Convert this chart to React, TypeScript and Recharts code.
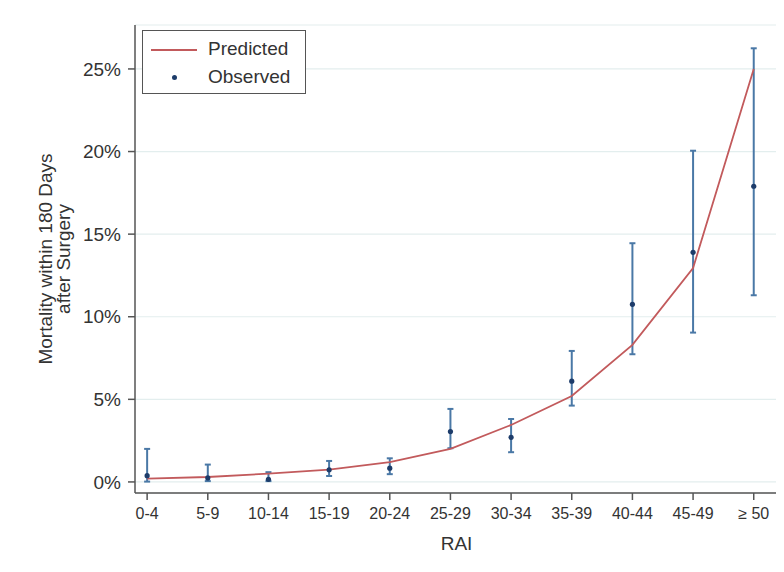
import {
  ComposedChart,
  Line,
  Scatter,
  ErrorBar,
  XAxis,
  YAxis,
  CartesianGrid,
  Legend,
} from "recharts";

// RAI bands (x axis categories)
const categories = ["0-4", "5-9", "10-14", "15-19", "20-24", "25-29", "30-34", "35-39", "40-44", "45-49", "≥ 50"];

// Predicted 180-day mortality (%)
const predicted = [0.2, 0.3, 0.5, 0.75, 1.2, 2.0, 3.45, 5.2, 8.3, 12.95, 25.0];

// Observed mortality (%) with 95% CI
const observed = [0.38, 0.24, 0.16, 0.73, 0.83, 3.05, 2.7, 6.1, 10.75, 13.9, 17.9];
const ciLow = [0.02, 0.05, 0.05, 0.36, 0.47, 2.04, 1.8, 4.62, 7.73, 9.04, 11.3];
const ciHigh = [2.0, 1.05, 0.59, 1.27, 1.43, 4.42, 3.81, 7.93, 14.45, 20.05, 26.25];

const yTicks = [0, 5, 10, 15, 20, 25];

const AXIS = "#555";
const TEXT = "#333";
const RED = "#c25a5c";
const BAR = "#4a78a6";
const DOT = "#1d3c6a";

const chartData = categories.map((c, i) => ({
  idx: i,
  label: c,
  predicted: predicted[i],
  observed: observed[i],
  obsErr: [observed[i] - ciLow[i], ciHigh[i] - observed[i]],
}));

function ObservedDot(props: any) {
  const { cx, cy } = props;
  if (cx == null || cy == null) return null;
  return <circle cx={cx} cy={cy} r={2.6} fill={DOT} />;
}

function YLabel(props: any) {
  const { viewBox } = props;
  const cy = viewBox.y + viewBox.height / 2;
  const x1 = viewBox.x + 37;
  const x2 = viewBox.x + 55;
  return (
    <g fill={TEXT} fontSize={19}>
      <text x={x1} y={cy} textAnchor="middle" dominantBaseline="central" transform={`rotate(-90 ${x1} ${cy})`}>
        Mortality within 180 Days
      </text>
      <text x={x2} y={cy} textAnchor="middle" dominantBaseline="central" transform={`rotate(-90 ${x2} ${cy})`}>
        after Surgery
      </text>
    </g>
  );
}

function LegendBox() {
  return (
    <div
      style={{
        width: 162,
        height: 62,
        border: `1.5px solid ${AXIS}`,
        background: "#fff",
        position: "relative",
        fontSize: 19,
        color: TEXT,
      }}
    >
      <div style={{ position: "absolute", left: 8, top: 18, width: 46, height: 0, borderTop: `2px solid ${RED}` }} />
      <div style={{ position: "absolute", left: 65, top: 7, lineHeight: "22px" }}>Predicted</div>
      <div
        style={{
          position: "absolute",
          left: 29,
          top: 44,
          width: 5,
          height: 5,
          borderRadius: "50%",
          background: DOT,
        }}
      />
      <div style={{ position: "absolute", left: 65, top: 35, lineHeight: "22px" }}>Observed</div>
    </div>
  );
}

export default function App() {
  return (
    <div
      style={{
        position: "relative",
        width: 784,
        height: 572,
        margin: -8,
        background: "#fdf2e7",
        fontFamily: "'Liberation Sans', Arial, sans-serif",
        overflow: "hidden",
      }}
    >
      <div style={{ position: "absolute", left: 8, top: 3, width: 776, height: 569, background: "#fff" }}>
        <ComposedChart
          width={776}
          height={569}
          data={chartData}
          margin={{ top: 22, right: 6, left: 0, bottom: 0 }}
        >
          <CartesianGrid vertical={false} stroke="#e3eeee" strokeWidth={1.2} />
          <XAxis
            dataKey="idx"
            type="number"
            domain={[-0.2, 10.4]}
            ticks={categories.map((_, i) => i)}
            tickFormatter={(v: number) => categories[v] ?? ""}
            interval={0}
            height={79}
            stroke={AXIS}
            strokeWidth={1.5}
            tickSize={7}
            tickMargin={8}
            tick={{ fill: TEXT, fontSize: 16 }}
            label={{ value: "RAI", position: "insideBottom", offset: 22, fill: TEXT, fontSize: 19 }}
          />
          <YAxis
            type="number"
            domain={[-0.67, 27.66]}
            ticks={yTicks}
            allowDataOverflow
            width={127}
            stroke={AXIS}
            strokeWidth={1.5}
            tickSize={7}
            tickMargin={7}
            tick={{ fill: TEXT, fontSize: 19 }}
            tickFormatter={(v: number) => `${v}%`}
            label={<YLabel />}
          />
          <Legend
            layout="horizontal"
            verticalAlign="middle"
            align="center"
            wrapperStyle={{ left: 134, top: 27, width: "auto" }}
            content={() => <LegendBox />}
          />
          <Scatter dataKey="observed" name="Observed" shape={<ObservedDot />} isAnimationActive={false}>
            <ErrorBar dataKey="obsErr" direction="y" width={3} stroke={BAR} strokeWidth={2} />
          </Scatter>
          <Line
            type="linear"
            dataKey="predicted"
            name="Predicted"
            stroke={RED}
            strokeWidth={1.8}
            dot={false}
            activeDot={false}
            isAnimationActive={false}
          />
        </ComposedChart>
      </div>
    </div>
  );
}
